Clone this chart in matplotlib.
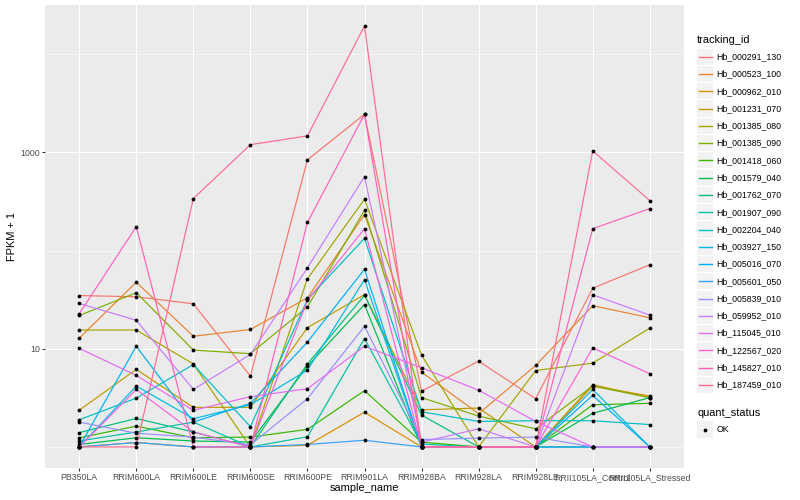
import numpy as np
import matplotlib
matplotlib.use("Agg")
import matplotlib.pyplot as plt
from matplotlib.patches import Rectangle
from matplotlib.lines import Line2D

plt.rcParams['font.family'] = ['Liberation Sans', 'DejaVu Sans']

samples = ["PB350LA", "RRIM600LA", "RRIM600LE", "RRIM600SE", "RRIM600PE",
           "RRIM901LA", "RRIM928BA", "RRIM928LA", "RRIM928LE",
           "RRII105LA_Control", "RRII105LA_Stressed"]

tracking_ids = ["Hb_000291_130", "Hb_000523_100", "Hb_000962_010", "Hb_001231_070",
                "Hb_001385_080", "Hb_001385_090", "Hb_001418_060", "Hb_001579_040",
                "Hb_001762_070", "Hb_001907_090", "Hb_002204_040", "Hb_003927_150",
                "Hb_005016_070", "Hb_005601_050", "Hb_005839_010", "Hb_059952_010",
                "Hb_115045_010", "Hb_122567_020", "Hb_145827_010", "Hb_187459_010"]

# FPKM + 1 values per sample (order of `samples`)
hb_000291_130 = [34.8, 33.8, 28.7, 5.26, 838, 2440, 3.7, 7.48, 3.1, 41.3, 71.6]
hb_000523_100 = [12.8, 47.6, 13.4, 15.7, 33.0, 232, 5.78, 2.18, 6.76, 27.4, 20.7]
hb_000962_010 = [1.0, 1.11, 1.0, 1.0, 1.04, 2.26, 1.0, 1.0, 1.0, 4.17, 3.3]
hb_001231_070 = [2.37, 6.16, 2.53, 2.53, 16.4, 35.6, 2.39, 2.49, 1.0, 4.31, 3.18]
hb_001385_080 = [15.5, 15.5, 7.0, 1.0, 51.5, 333, 8.6, 1.0, 6.0, 7.14, 16.2]
hb_001385_090 = [21.8, 37.2, 9.7, 8.9, 26.7, 257, 3.18, 2.06, 1.53, 4.17, 3.18]
hb_001418_060 = [1.24, 1.63, 1.24, 1.26, 1.51, 3.74, 1.12, 1.0, 1.0, 2.69, 2.78]
hb_001579_040 = [1.06, 1.24, 1.15, 1.12, 6.65, 28.2, 1.0, 1.0, 1.0, 2.2, 3.18]
hb_001762_070 = [1.40, 1.95, 1.42, 1.0, 7.0, 35.0, 2.11, 1.0, 1.0, 1.0, 1.0]
hb_001907_090 = [1.15, 1.42, 1.79, 1.0, 1.27, 12.7, 1.07, 1.0, 1.0, 1.0, 1.0]
hb_002204_040 = [1.89, 3.14, 6.9, 1.61, 31.8, 133, 2.28, 1.82, 1.85, 1.85, 1.69]
hb_003927_150 = [1.0, 4.17, 1.94, 2.69, 6.06, 50.6, 1.0, 1.0, 1.0, 3.85, 1.0]
hb_005016_070 = [1.0, 10.6, 1.79, 2.78, 11.7, 64.5, 1.0, 1.0, 1.0, 3.35, 1.0]
hb_005601_050 = [1.0, 1.11, 1.0, 1.0, 1.06, 1.17, 1.0, 1.0, 1.0, 1.0, 1.0]
hb_005839_010 = [1.79, 1.38, 1.26, 1.05, 3.1, 16.9, 1.19, 1.23, 1.26, 1.0, 1.0]
hb_059952_010 = [28.9, 19.5, 3.85, 8.75, 66.7, 566, 1.12, 1.53, 1.0, 35.4, 22.0]
hb_115045_010 = [10.1, 5.35, 2.36, 3.25, 3.92, 10.6, 6.4, 3.79, 1.82, 1.0, 1.0]
hb_122567_020 = [1.0, 3.85, 1.42, 1.0, 31.0, 167, 1.0, 1.0, 1.0, 10.2, 5.57]
hb_145827_010 = [22.7, 175, 1.0, 1.0, 193, 2440, 1.0, 1.0, 1.0, 167, 267]
hb_187459_010 = [1.0, 1.0, 338, 1197, 1469, 19300, 1.0, 1.0, 1.0, 1033, 323]

series = [hb_000291_130, hb_000523_100, hb_000962_010, hb_001231_070, hb_001385_080,
          hb_001385_090, hb_001418_060, hb_001579_040, hb_001762_070, hb_001907_090,
          hb_002204_040, hb_003927_150, hb_005016_070, hb_005601_050, hb_005839_010,
          hb_059952_010, hb_115045_010, hb_122567_020, hb_145827_010, hb_187459_010]

colors = ["#F8766D", "#EA8331", "#D89000", "#C09B00", "#A3A500", "#7CAE00", "#39B600",
          "#00BB4E", "#00BF7D", "#00C1A3", "#00BFC4", "#00BAE0", "#00B0F6", "#35A2FF",
          "#9590FF", "#C77CFF", "#E76BF3", "#FA62DB", "#FF62BC", "#FF6C91"]

W, H = 800, 500
fig = plt.figure(figsize=(8, 5), dpi=100)
L, R, T, B = 45, 684, 5, 468
ax = fig.add_axes([L / W, 1 - B / H, (R - L) / W, (B - T) / H])
ax.set_facecolor('#EBEBEB')
for s in ax.spines.values():
    s.set_visible(False)

x = np.arange(len(samples))
PX = 0.72  # points per pixel at dpi 100
for vals, c in zip(series, colors):
    ax.plot(x, vals, color=c, lw=1.2 * PX, zorder=3, solid_capstyle='butt')
for vals in series:
    ax.plot(x, vals, ls='none', marker='o', ms=3.8 * PX, color='black',
            mec='black', mew=0, zorder=4)

ax.set_yscale('log')
allv = np.log10(np.concatenate([np.array(v, float) for v in series]))
lo, hi = allv.min(), allv.max()
ex = 0.05 * (hi - lo)
ax.set_ylim(10 ** (lo - ex), 10 ** (hi + ex))
ax.set_xlim(-0.6, len(samples) - 0.4)

# grid
for v in [10, 1000]:
    ax.axhline(v, color='white', lw=1.07 * PX, zorder=1)
for v in [1, 100, 10000]:
    ax.axhline(v, color='white', lw=0.55 * PX, zorder=1)
for xi in x:
    ax.axvline(xi, color='white', lw=1.07 * PX, zorder=1)

ax.set_yticks([10, 1000])
ax.set_yticklabels(["10", "1000"])
ax.yaxis.set_minor_locator(matplotlib.ticker.NullLocator())
ax.set_xticks(x)
ax.set_xticklabels(samples)
ax.tick_params(axis='both', which='major', length=2.75 * PX, width=1.07 * PX,
               color='#333333', labelcolor='#4D4D4D', labelsize=8.8 * PX,
               pad=2.2 * PX)

fig.text(L / W + (R - L) / W / 2, 1 - 488 / H, "sample_name", ha='center', va='center',
         fontsize=11 * PX, color='black')
fig.text(12 / W, 1 - (T + B) / 2 / H, "FPKM + 1", ha='center', va='center',
         rotation=90, fontsize=11 * PX, color='black')

def fx(px):
    return px / W

def fy(py):
    return 1 - py / H

# legend: tracking_id
fig.text(fx(697), fy(40), "tracking_id", ha='left', va='center', fontsize=11 * PX)
y0, dy = 56.7, 17.28
for i, (tid, c) in enumerate(zip(tracking_ids, colors)):
    yc = y0 + i * dy
    fig.patches.append(Rectangle((fx(697), fy(yc + 8.1)), 16.3 / W, 16.2 / H,
                                 transform=fig.transFigure, facecolor='#F2F2F2',
                                 edgecolor='none'))
    fig.lines.append(Line2D([fx(698.5), fx(712)], [fy(yc), fy(yc)], color=c,
                            lw=1.4 * PX, transform=fig.transFigure))
    fig.text(fx(716.5), fy(yc), tid, ha='left', va='center', fontsize=8.8 * PX)

# legend: quant_status
fig.text(fx(697), fy(412.5), "quant_status", ha='left', va='center', fontsize=11 * PX)
yc = 429.5
fig.patches.append(Rectangle((fx(697), fy(yc + 8.1)), 16.3 / W, 16.2 / H,
                             transform=fig.transFigure, facecolor='#F2F2F2',
                             edgecolor='none'))
fig.lines.append(Line2D([fx(705)], [fy(yc)], ls='none', marker='o', ms=3.8 * PX,
                        color='black', mew=0, transform=fig.transFigure))
fig.text(fx(716.5), fy(yc), "OK", ha='left', va='center', fontsize=8.8 * PX)

fig.savefig("out.png", dpi=100)
